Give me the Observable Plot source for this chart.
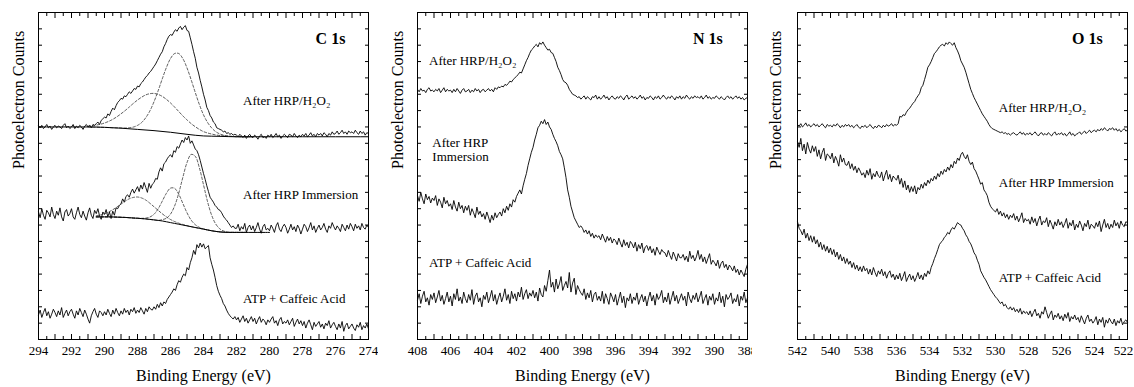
<!DOCTYPE html>
<html><head><meta charset="utf-8">
<script src="https://cdn.jsdelivr.net/npm/d3@7"></script>
<script src="https://cdn.jsdelivr.net/npm/@observablehq/plot@0.6"></script>
<style>
body{margin:0;background:#fff;}
#wrap{position:relative;width:1134px;height:387px;overflow:hidden;background:#fff;}
#wrap svg{position:absolute;top:0;}
</style></head><body><div id="wrap"></div>
<script>
// ---------- C 1s (294 -> 274 eV, 0.1 eV steps) ----------
const c1sHRPH2O2 = [
261,259,262,258,260,263,259,261,257,260,
262,259,261,260,258,262,264,259,261,258,
260,263,258,261,259,262,260,257,261,263,
260,262,259,263,262,264,266,263,268,270,
272,271,276,274,279,283,281,286,290,292,
295,294,298,297,300,303,301,304,307,306,
310,309,313,315,318,321,323,326,328,331,
334,337,341,345,349,352,358,362,367,371,
373,372,376,379,377,381,383,379,382,384,
378,377,369,361,352,344,333,326,317,309,
300,293,284,280,274,271,266,264,259,258,
257,256,254,255,252,253,251,252,250,251,
250,248,251,249,247,250,246,249,251,248,
247,250,248,245,249,251,247,248,246,250,
248,251,247,249,252,248,250,246,249,251,
249,247,251,250,248,252,249,247,250,248,
251,249,252,248,250,253,249,251,248,252,
250,252,249,253,251,248,252,250,254,251,
252,255,251,253,256,252,254,251,255,253,
254,252,256,253,251,255,252,254,250,253,
252];
const c1sHRP = [
156,149,160,152,147,158,155,150,162,153,
148,157,152,161,150,145,156,159,151,154,
160,150,147,155,162,153,149,157,151,146,
155,161,152,148,158,154,160,151,147,156,
153,159,150,156,148,157,152,161,160,164,
166,172,168,175,177,174,180,184,179,183,
187,181,189,184,192,186,180,191,185,190,
192,197,196,205,210,206,215,217,221,224,
226,223,231,229,236,234,239,244,241,247,
244,249,240,243,238,233,231,226,219,211,
203,196,188,181,174,171,168,164,162,159,
158,155,151,148,146,143,140,137,139,136,
136,141,133,138,135,142,131,137,140,134,
139,132,137,143,135,130,138,141,134,136,
133,140,136,131,139,143,135,132,138,141,
137,130,135,141,134,138,132,140,136,129,
135,141,138,132,137,143,134,139,131,136,
140,134,137,142,135,131,139,136,143,138,
134,139,136,132,141,137,133,140,135,142,
138,133,141,136,139,134,142,137,135,140,
137];
const c1sATP = [
30,36,27,33,38,29,34,26,31,37,
33,28,35,30,39,27,32,36,29,34,
37,31,26,35,30,38,33,28,36,31,
25,20,29,34,38,31,27,35,33,29,
34,30,37,32,28,36,31,38,33,29,
35,31,38,33,36,30,37,34,39,32,
36,33,39,35,31,38,34,40,37,36,
40,37,43,39,45,41,46,44,49,52,
55,58,62,60,67,72,70,76,80,78,
88,85,94,100,109,104,116,112,118,113,
117,111,113,115,100,92,85,76,66,59,
54,50,44,41,36,32,29,27,25,28,
24,27,21,25,29,22,26,20,24,28,
22,26,19,24,28,21,25,23,18,24,
21,25,28,20,23,17,24,27,19,22,
20,24,18,22,26,16,21,25,19,23,
17,22,14,20,24,18,12,21,16,19,
22,15,19,13,20,17,23,14,18,21,
16,12,19,14,22,10,17,20,13,16,
19,14,11,18,15,21,12,17,14,19,
13];
// C 1s peak fits (0.25 eV steps) and Shirley backgrounds
const c1sFitStart = 291;
const c1sFit1 = [260.0,259.9,259.8,259.6,259.5,259.3,259.0,258.9,258.8,258.7,259.0,259.9,261.9,265.4,271.3,279.6,290.8,304.2,318.8,332.6,343.7,349.8,349.8,343.5,332.2,317.8,302.2,287.4,274.8,265.4,258.7,254.1,251.4,249.8,249.0,248.4,248.1,248.0,248.0,248.0,248.0];
const c1sFit2 = [261.0,261.5,262.3,263.3,264.8,266.8,269.3,272.4,276.1,280.0,284.4,288.8,292.9,296.4,299.2,300.7,301.0,299.8,297.4,293.8,289.4,284.3,278.9,273.5,268.6,264.1,260.3,257.0,254.3,252.6,251.3,250.2,249.5,249.0,248.6,248.3,248.1,248.0,248.0,248.0,248.0];
const c1sBgStart = 294;
const c1sBg = [260,260,260,260,259.5,258.5,257,255.5,253.5,251,249,248.5,248,248,248,248,248,248,248,248,248];
const c1sHRPFitStart = 290.5;
const c1sHRPFitA = [150.0,150.0,150.0,150.0,149.9,149.7,149.5,149.3,149.0,148.6,148.3,147.9,147.5,146.9,146.3,145.7,146.6,148.3,153.4,163.4,179.0,198.5,216.4,226.4,224.1,210.0,189.3,168.3,151.7,141.0,135.2,132.5,131.4,131.1,131.0,131.0,131.0];
const c1sHRPFitB = [150.0,150.0,150.0,150.0,149.9,149.7,149.5,149.3,149.0,148.6,148.3,148.2,148.5,149.8,153.2,159.8,169.2,178.8,185.2,184.9,177.7,166.4,155.0,146.1,140.5,137.2,135.3,134.0,133.0,132.2,131.6,131.2,131.0,131.0,131.0,131.0,131.0];
const c1sHRPFitC = [151.3,152.3,153.8,156.0,158.7,162.0,165.6,169.1,172.1,173.8,174.3,173.1,170.6,166.7,162.4,158.0,153.8,150.0,146.8,144.3,142.3,140.7,139.3,138.0,137.0,136.0,135.0,134.0,133.0,132.2,131.6,131.2,131.0,131.0,131.0,131.0,131.0];
const c1sHRPBgStart = 290.5;
const c1sHRPBg = [150.0,150.0,150.0,150.0,149.9,149.7,149.5,149.3,149.0,148.6,148.3,147.9,147.5,146.9,146.3,145.7,145.0,144.0,143.0,142.0,141.0,140.0,139.0,138.0,137.0,136.0,135.0,134.0,133.0,132.2,131.6,131.2,131.0,131.0,131.0,131.0,131.0,131.0,131.0,131.0,131.0,131.0,131.0];

// ---------- N 1s (408 -> 388 eV) ----------
const n1sHRPH2O2 = [
306,303,307,304,305,302,306,308,304,305,
303,306,304,307,302,305,308,303,306,304,
305,302,306,303,307,304,301,305,307,303,
304,306,302,305,303,307,304,306,302,305,
306,303,305,307,304,306,303,308,306,309,
308,310,309,312,311,313,316,315,318,320,
322,324,327,326,331,336,341,345,350,354,
356,359,361,358,363,361,364,360,357,354,
355,351,350,345,340,333,329,324,318,315,
314,311,306,303,300,299,298,296,297,294,
296,298,294,297,295,293,297,296,299,294,
297,294,296,299,295,297,293,296,298,295,
294,297,295,298,296,293,297,299,294,296,
298,295,297,294,296,299,295,297,293,296,
295,298,296,293,297,295,298,294,296,299,
296,294,297,295,298,296,293,297,295,298,
294,297,295,299,296,294,297,295,298,296,
297,295,298,294,296,299,295,297,294,296,
295,298,296,294,297,295,293,296,298,295,
297,294,296,298,295,297,294,296,293,295,
296];
const n1sHRP = [
176,169,180,172,166,178,171,175,167,173,
170,176,164,172,168,161,174,166,170,163,
166,159,170,162,157,168,160,164,155,163,
158,164,152,160,155,149,162,153,157,150,
154,147,156,150,143,152,146,155,149,153,
156,151,160,155,163,158,166,162,171,168,
175,179,183,178,188,196,203,213,221,229,
235,244,251,259,262,267,264,269,263,266,
260,257,251,246,242,237,230,226,221,210,
198,183,174,163,156,149,145,141,137,139,
136,131,134,129,133,126,130,124,128,125,
127,122,129,124,119,126,121,125,118,123,
121,116,124,118,113,122,115,119,112,120,
117,112,119,108,116,111,118,106,113,115,
109,114,106,111,103,113,108,104,110,107,
106,101,109,103,98,107,102,96,105,100,
100,104,97,102,95,108,99,103,96,101,
109,98,104,95,101,93,99,105,92,97,
94,90,97,87,93,96,88,92,85,91,
88,84,90,82,86,79,85,81,77,86,
92];
const n1sATP = [
48,56,44,53,59,46,51,42,55,49,
57,45,52,60,47,54,43,50,58,46,
53,41,56,49,62,47,52,44,58,50,
45,55,48,61,43,53,57,46,51,40,
54,49,58,45,52,60,47,55,43,51,
57,46,53,62,48,55,44,59,50,56,
47,58,52,64,49,56,61,50,57,53,
60,51,58,47,63,55,52,66,59,72,
85,64,70,58,74,62,68,77,60,66,
71,63,82,58,69,75,55,66,61,57,
54,62,49,57,51,60,46,55,58,48,
53,47,59,44,56,50,43,57,52,46,
55,42,50,58,45,53,39,51,47,56,
44,52,48,57,43,50,55,46,53,41,
51,58,47,54,42,56,49,53,60,45,
52,46,57,43,51,59,47,54,44,50,
56,48,53,41,58,50,45,54,49,57,
46,52,59,44,50,55,42,53,48,56,
43,51,47,58,45,53,40,55,49,52,
57,44,50,46,55,41,53,48,58,45,
51];

// ---------- O 1s (542 -> 522 eV) ----------
const o1sHRPH2O2 = [
263,261,264,260,262,265,261,263,260,262,
264,261,263,260,262,264,261,259,263,261,
262,260,263,261,264,262,259,262,260,263,
261,263,260,262,259,261,263,260,258,261,
260,262,259,261,263,260,258,261,259,262,
261,259,262,260,263,261,262,264,261,263,
262,264,273,272,275,274,278,281,283,286,
289,291,295,298,301,308,311,318,325,333,
336,340,345,350,352,355,358,360,361,359,
363,361,364,362,360,363,357,353,348,341,
337,333,327,320,313,306,301,296,292,288,
284,280,276,273,270,267,263,260,258,257,
256,255,254,253,254,252,253,251,252,250,
252,253,251,250,252,254,251,253,250,252,
251,253,250,252,254,251,249,252,253,250,
252,250,253,251,249,252,254,250,252,251,
253,250,252,249,251,254,250,252,249,251,
252,254,251,253,255,252,254,256,253,255,
256,254,257,255,258,256,259,257,255,258,
257,259,256,258,255,257,254,256,258,255,
256];
const o1sHRP = [
242,235,246,231,239,227,241,233,228,237,
230,236,224,232,221,229,234,219,227,225,
221,228,216,224,219,212,226,217,222,214,
213,218,209,215,207,212,204,210,206,201,
204,198,207,201,209,196,203,199,206,200,
198,205,194,201,207,196,202,193,200,197,
195,201,190,197,186,194,183,189,180,187,
181,188,178,186,183,190,185,192,188,195,
191,197,194,200,196,203,199,206,202,208,
205,211,207,214,210,218,215,222,219,226,
229,224,221,226,218,214,217,209,206,201,
196,190,192,183,180,176,168,163,160,158,
156,160,153,157,151,155,149,153,147,152,
149,154,146,151,144,149,155,143,148,145,
147,141,150,143,148,139,146,151,140,145,
143,149,138,146,141,135,144,139,147,140,
144,137,142,148,136,143,139,146,134,141,
137,145,140,133,142,138,146,135,141,139,
136,143,138,145,132,140,147,137,142,135,
141,137,146,139,143,136,145,140,138,144,
143];
const o1sATP = [
144,136,133,128,135,124,130,121,127,119,
126,117,122,113,119,110,116,108,114,106,
112,104,110,101,107,98,104,96,101,93,
99,92,96,88,94,86,91,84,89,83,
90,84,87,80,86,79,88,82,77,84,
80,86,78,83,75,81,84,76,80,73,
79,74,81,72,77,83,71,76,80,73,
78,71,76,82,74,79,73,81,77,84,
80,88,93,99,104,110,116,119,121,125,
127,131,129,134,137,135,139,143,141,140,
136,133,128,125,120,117,112,106,103,97,
92,84,80,76,73,69,65,61,58,55,
52,50,47,44,46,41,43,39,37,40,
36,39,34,37,33,38,31,35,32,34,
30,35,28,33,37,29,32,26,34,31,
40,33,26,31,35,24,30,27,32,25,
29,23,31,26,33,22,28,25,30,24,
27,21,29,24,19,26,30,22,25,20,
23,28,18,25,21,27,15,24,20,26,
22,19,25,17,23,20,26,18,22,24,
21];

// ---------- Text ----------
const xTitle = "Binding Energy (eV)";
const yTitle = "Photoelectron Counts";
const c1sLabels = [
  {t: "After HRP/H\u2082O\u2082", e: 281.6, v: 292},
  {t: "After HRP Immersion", e: 281.6, v: 177},
  {t: "ATP + Caffeic Acid", e: 281.6, v: 50}
];
const n1sLabels = [
  {t: "After HRP/H\u2082O\u2082", e: 407.3, v: 341},
  {t: "After HRP", e: 407.1, v: 241},
  {t: "Immersion", e: 407.1, v: 224},
  {t: "ATP + Caffeic Acid", e: 407.3, v: 94}
];
const o1sLabels = [
  {t: "After HRP/H\u2082O\u2082", e: 529.8, v: 284},
  {t: "After HRP Immersion", e: 529.8, v: 192},
  {t: "ATP + Caffeic Acid", e: 529.8, v: 76}
];

// ---------- helpers ----------
const series = (start, step, vals) => vals.map((v, i) => ({e: +(start - i * step).toFixed(2), v}));
const yTicks = d3.range(0, 401, 20);
const serif = "'Liberation Serif', 'Times New Roman', serif";

function panel(cfg) {
  const lo = Math.min(...cfg.domain), hi = Math.max(...cfg.domain);
  const whole = d3.range(lo, hi + 0.001, 1);
  const half = d3.range(lo + 0.5, hi, 1);
  const labelled = whole.filter(d => d % 2 === 0 && !(cfg.edgeLabel && d === lo));
  const marks = [];
  cfg.spectra.forEach(s => marks.push(Plot.line(series(cfg.domain[0], 0.1, s), {x: "e", y: "v", stroke: "#000", strokeWidth: 0.9})));
  (cfg.fits || []).forEach(f => marks.push(Plot.line(series(f.start, 0.25, f.vals), {x: "e", y: "v", stroke: "#333", strokeWidth: 0.8, strokeDasharray: "2.5,2", curve: "catmull-rom"})));
  (cfg.bgs || []).forEach(b => marks.push(Plot.line(series(b.start, b.step, b.vals), {x: "e", y: "v", stroke: "#000", strokeWidth: 1, curve: "monotone-x"})));
  marks.push(
    Plot.frame({stroke: "#000", strokeWidth: 1}),
    Plot.axisX(labelled, {anchor: "bottom", tickSize: 0, tickPadding: 6, fontSize: 13, label: null, tickFormat: d => String(d)}),
    Plot.axisX(whole, {anchor: "bottom", tickSize: -5, tickFormat: () => "", label: null}),
    Plot.axisX(half, {anchor: "bottom", tickSize: -3, tickFormat: () => "", label: null}),
    Plot.axisX(whole, {anchor: "top", tickSize: -5, tickFormat: () => "", label: null}),
    Plot.axisX(half, {anchor: "top", tickSize: -3, tickFormat: () => "", label: null}),
    Plot.axisY(yTicks, {anchor: "left", tickSize: -4, tickFormat: () => "", label: null}),
    Plot.axisY(yTicks, {anchor: "right", tickSize: -4, tickFormat: () => "", label: null}),
    Plot.text(cfg.labels, {x: "e", y: "v", text: "t", textAnchor: "start", fontSize: 13}),
    Plot.text([cfg.title], {x: cfg.titleE, y: 368, text: d => d, textAnchor: "end", fontSize: 16, fontWeight: "bold"}),
    Plot.text([xTitle], {text: d => d, frameAnchor: "bottom", dy: 41, fontSize: 16}),
    Plot.text([yTitle], {text: d => d, frameAnchor: "left", rotate: -90, dx: cfg.ydx, dy: -7, fontSize: 16})
  );
  if (cfg.edgeLabel) {
    marks.push(Plot.axisX([lo], {anchor: "bottom", tickSize: 0, tickPadding: 6, fontSize: 13, label: null, dx: -4, tickFormat: d => String(d)}));
  }
  const svg = Plot.plot({
    width: cfg.width, height: 387,
    marginLeft: cfg.ml, marginRight: cfg.mr, marginTop: 12, marginBottom: 48,
    x: {domain: cfg.domain},
    y: {domain: [0, 400]},
    style: {fontFamily: serif, fontSize: "13px", background: "transparent", color: "#000", overflow: "hidden"},
    marks
  });
  svg.style.left = cfg.left + "px";
  document.getElementById("wrap").appendChild(svg);
}

panel({
  left: 0, width: 378, ml: 38, mr: 10, domain: [294, 274], ydx: -20,
  spectra: [c1sHRPH2O2, c1sHRP, c1sATP],
  fits: [
    {start: c1sFitStart, vals: c1sFit1}, {start: c1sFitStart, vals: c1sFit2},
    {start: c1sHRPFitStart, vals: c1sHRPFitA}, {start: c1sHRPFitStart, vals: c1sHRPFitB}, {start: c1sHRPFitStart, vals: c1sHRPFitC}
  ],
  bgs: [{start: c1sBgStart, step: 1, vals: c1sBg}, {start: c1sHRPBgStart, step: 0.25, vals: c1sHRPBg}],
  labels: c1sLabels, title: "C 1s", titleE: 275.4
});
panel({
  left: 378, width: 374, ml: 39, mr: 5, domain: [408, 388], ydx: -20,
  spectra: [n1sHRPH2O2, n1sHRP, n1sATP],
  labels: n1sLabels, title: "N 1s", titleE: 389.5
});
panel({
  left: 752, width: 382, ml: 45, mr: 7, domain: [542, 522], ydx: -22, edgeLabel: true,
  spectra: [o1sHRPH2O2, o1sHRP, o1sATP],
  labels: o1sLabels, title: "O 1s", titleE: 523.5
});
</script></body></html>
